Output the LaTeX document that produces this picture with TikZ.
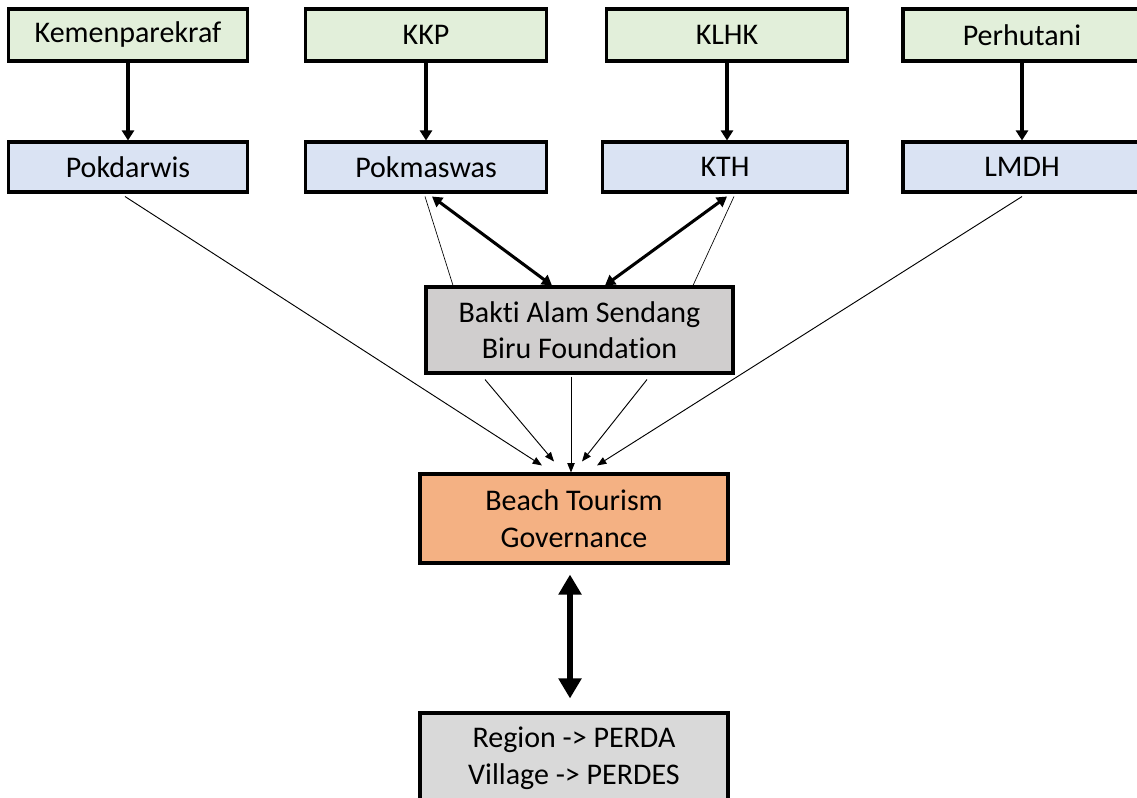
\documentclass[tikz,border=0pt]{standalone}
\usepackage{fontspec}
\setmainfont{Carlito}[Ligatures={NoCommon}]
\usetikzlibrary{arrows.meta,calc}
\definecolor{cgreen}{HTML}{E2EFDA}
\definecolor{cblue}{HTML}{DAE3F3}
\definecolor{cgray}{HTML}{D0CECE}
\definecolor{corange}{HTML}{F4B183}
\definecolor{clight}{HTML}{D9D9D9}
\begin{document}
\begin{tikzpicture}[x=0.75pt,y=-0.75pt,
  box/.style={draw=black,line width=2.3pt,inner sep=0pt,font=\fontsize{22.5}{27.4}\selectfont,align=center},
  toprow/.style={box,fill=cgreen,minimum height=52*0.75pt},
  midrow/.style={box,fill=cblue,minimum height=50*0.75pt},
  down/.style={line width=2.3pt,-{Triangle[length=7.5pt,width=9pt]}},
  thick2/.style={line width=2.3pt,{Triangle[length=7.5pt,width=8.5pt]}-{Triangle[length=7.5pt,width=8.5pt]}},
  thin/.style={line width=0.7pt,-{Triangle[length=7pt,width=5.5pt]}},
  plain/.style={line width=0.5pt},
  big/.style={line width=5pt,{Triangle[length=15pt,width=16.5pt]}-{Triangle[length=15pt,width=16.5pt]}}
]
\clip (0,0) rectangle (1137,798);
\fill[white] (0,0) rectangle (1137,798);

\node[toprow,minimum width=239*0.75pt] (kem) at (128,35) {Kemenparekraf};
\node[toprow,minimum width=241*0.75pt] (kkp) at (426,35) {KKP};
\node[toprow,minimum width=241*0.75pt] (klhk) at (727,35) {KLHK};
\node[toprow,minimum width=238*0.75pt] (per) at (1022,35) {Perhutani};

\node[midrow,minimum width=239*0.75pt] (pokd) at (128,167) {Pokdarwis};
\node[midrow,minimum width=241*0.75pt] (pokm) at (426,167) {Pokmaswas};
\node[midrow,minimum width=245*0.75pt] (kth) at (725,167) {KTH};
\node[midrow,minimum width=238*0.75pt] (lmdh) at (1022,167) {LMDH};

\node[box,fill=cgray,minimum width=307*0.75pt,minimum height=86*0.75pt] (bakti) at (579.5,330) {Bakti Alam Sendang\\Biru Foundation};
\node[box,fill=corange,minimum width=308*0.75pt,minimum height=89*0.75pt] (beach) at (574,518.5) {Beach Tourism\\Governance};
\node[box,fill=clight,minimum width=308*0.75pt,minimum height=91*0.75pt] (region) at (574,758.5) {Region -> PERDA\\Village -> PERDES};

\draw[down] (kem.south) -- (pokd.north);
\draw[down] (kkp.south) -- (pokm.north);
\draw[down] (klhk.south) -- (klhk.south |- kth.north);
\draw[down] (per.south) -- (lmdh.north);

\draw[thin] ($(pokd.south)+(-3,3)$) -- ($(beach.north)+(-32,-7)$);
\draw[plain] ($(pokm.south)+(-1,3)$) -- ($(bakti.north)+(-126.5,0)$);
\draw[thick2] ($(pokm.south)+(6,3)$) -- ($(bakti.north)+(-27.5,0)$);
\draw[thick2] ($(kth.south)+(2,3)$) -- ($(bakti.north)+(25.5,0)$);
\draw[plain] ($(kth.south)+(9,3)$) -- ($(bakti.north)+(113.5,0)$);
\draw[thin] ($(lmdh.south)+(0,3)$) -- ($(beach.north)+(23,-7)$);

\draw[thin] ($(bakti.south)+(-94.5,5)$) -- ($(beach.north)+(-20,-11)$);
\draw[thin] ($(bakti.south)+(-8.5,2)$) -- ($(beach.north)+(-3,0)$);
\draw[thin] ($(bakti.south)+(67.5,5)$) -- ($(beach.north)+(8,-11)$);

\draw[big] ($(beach.south)+(-4,10)$) -- ($(region.north)+(-4,-13)$);
\end{tikzpicture}
\end{document}
